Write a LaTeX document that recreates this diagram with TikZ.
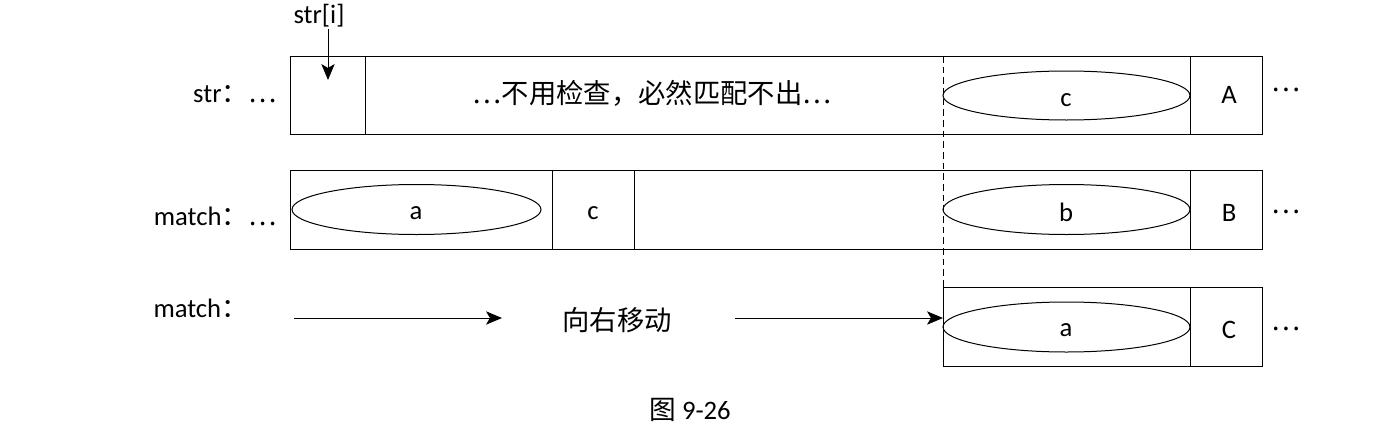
\documentclass[tikz,border=0pt]{standalone}
\usepackage{fontspec}
\setmainfont{Carlito}
\newfontfamily\cjk{Noto Sans CJK SC}
\usetikzlibrary{arrows.meta}
\tikzset{every picture/.style={line width=0.75pt}}
\tikzset{lbl/.style={inner sep=0.75pt, font=\fontsize{20}{24}\selectfont},
  cjklbl/.style={inner sep=0.75pt, font=\cjk\fontsize{20.5}{24}\selectfont},
  mv/.style={-{Stealth[length=12pt,width=10pt,inset=3pt]}}}
\newcommand{\dts}{{\cjk ⋯}}
\begin{document}
\begin{tikzpicture}[x=0.75pt,y=0.75pt,yscale=-1,xscale=1]
\useasboundingbox (0,0) rectangle (1396,446);

%Row str
\draw (290,56) rectangle (1262,134);
\draw (365,56) -- (365,134);
\draw (1190,56) -- (1190,134);
\draw (1066.5,95.5) ellipse [x radius=123.5, y radius=24.5];
%Row match
\draw (290,170) rectangle (1262,249);
\draw (552,170) -- (552,249);
\draw (634,170) -- (634,249);
\draw (1190,170) -- (1190,249);
\draw (416.5,209.5) ellipse [x radius=124.5, y radius=25];
\draw (1066.5,209.5) ellipse [x radius=123.5, y radius=25];
%Row match moved
\draw (943,287) rectangle (1262,366);
\draw (1190,287) -- (1190,366);
\draw (1066.5,327) ellipse [x radius=123.5, y radius=25];
%Dashed line
\draw [dashed, dash pattern=on 5pt off 3pt] (943,56) -- (943,287);

% Text Node
\draw (319,16) node [lbl] (stri) {str[i]};
\coordinate (stritip) at (328,80);
\draw [mv] (stri.south -| stritip) -- (stritip);
% Text Node
\draw (278,94) node [lbl, anchor=east] (strlbl) {str{\cjk ：}\dts};
\draw (278,216) node [lbl, anchor=east] (matchlbl) {match{\cjk ：}\dts};
\draw (152,308) node [lbl, anchor=west] (matchmv) {match{\cjk ：}};
% Text Node
\draw (652,93) node [cjklbl] (skip) {\dts 不用检查，必然匹配不出\dts};
\draw (1066,100) node [lbl] (sc) {c};
\draw (1229,95) node [lbl] (sA) {A};
\draw (416,213) node [lbl] (ma) {a};
\draw (593,213) node [lbl] (mc) {c};
\draw (1066,212) node [lbl] (mb) {b};
\draw (1229,213) node [lbl] (mB) {B};
\draw (1066,330) node [lbl] (na) {a};
\draw (1229,330) node [lbl] (nC) {C};
\draw (1286,90) node [cjklbl] (dots1) {\dts};
\draw (1286,212) node [cjklbl] (dots2) {\dts};
\draw (1286,329) node [cjklbl] (dots3) {\dts};
% Text Node
\draw (617,320) node [cjklbl] (move) {向右移动};
\coordinate (mvstart) at (294,318);
\coordinate (mvend) at (943,318);
\draw [mv] (mvstart) -- (502,318);
\draw [mv] (735,318) -- (mvend);
% Text Node
\draw (690,410) node [lbl] (cap) {{\cjk 图} 9-26};

\end{tikzpicture}
\end{document}
